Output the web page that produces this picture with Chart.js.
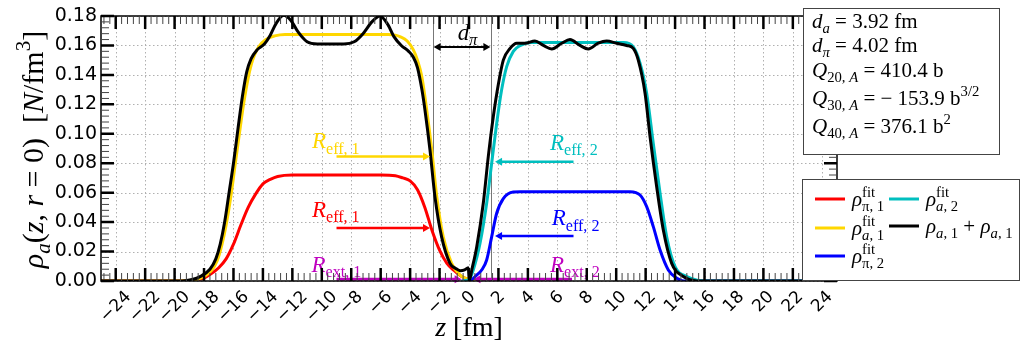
<!DOCTYPE html>
<html>
<head>
<meta charset="utf-8">
<script src="https://cdn.jsdelivr.net/npm/chart.js@4.4.1/dist/chart.umd.min.js"></script>
<style>
  html, body { margin: 0; padding: 0; background: #fff; }
  canvas { display: block; }
</style>
</head>
<body>
<canvas id="densityChart" width="1022" height="343"></canvas>
<script>
// axis ticks
var xTicks = [-24, -22, -20, -18, -16, -14, -12, -10, -8, -6, -4, -2, 0, 2, 4, 6, 8, 10, 12, 14, 16, 18, 20, 22, 24];
var yTicks = [0, 0.02, 0.04, 0.06, 0.08, 0.10, 0.12, 0.14, 0.16, 0.18];

// densities along z (fm) -> rho (N/fm^3)
var rhoPi1 = [[-25, 0], [-19, 0], [-18.5, 0.001], [-18, 0.002], [-17.5, 0.005], [-17, 0.009], [-16.5, 0.015],
  [-16, 0.025], [-15.5, 0.038], [-15, 0.050], [-14.5, 0.059], [-14, 0.066], [-13.5, 0.069], [-13, 0.071],
  [-12, 0.072], [-6, 0.072], [-5, 0.0715], [-4.5, 0.070], [-4, 0.068], [-3.5, 0.062], [-3, 0.050],
  [-2.5, 0.034], [-2, 0.021], [-1.5, 0.012], [-1, 0.007], [-0.5, 0.003], [0, 0.001], [0.5, 0]];

var rhoA1 = [[-25, 0], [-19.5, 0], [-18.5, 0.001], [-18, 0.003], [-17.5, 0.007], [-17.1, 0.014], [-16.8, 0.024],
  [-16.5, 0.038], [-16.2, 0.056], [-15.9, 0.078], [-15.6, 0.100], [-15.3, 0.121], [-15, 0.138], [-14.7, 0.150],
  [-14.3, 0.159], [-13.8, 0.164], [-13.2, 0.1665], [-12.5, 0.1675], [-5.5, 0.1675], [-5, 0.167], [-4.7, 0.166],
  [-4.2, 0.163], [-3.78, 0.157], [-3.5, 0.150], [-3.21, 0.139], [-2.87, 0.116], [-2.53, 0.089], [-2.19, 0.0573],
  [-1.75, 0.030], [-1.18, 0.012], [-0.61, 0.004], [0, 0.001], [0.5, 0]];

var rhoPi2 = [[-0.5, 0], [0, 0], [0.52, 0.004], [0.9, 0.008], [1.2, 0.0143], [1.54, 0.030], [1.88, 0.046],
  [2.33, 0.056], [3.01, 0.0605], [3.5, 0.0607], [10.94, 0.0607], [11.62, 0.0584], [12.07, 0.0505],
  [12.52, 0.0369], [12.98, 0.021], [13.54, 0.0075], [14.1, 0.002], [14.6, 0], [25, 0]];

var rhoA2 = [[-0.5, 0], [0, 0.001], [0.29, 0.0075], [0.75, 0.0256], [1.2, 0.0528], [1.54, 0.080], [1.88, 0.107],
  [2.22, 0.130], [2.56, 0.1456], [3.01, 0.156], [3.5, 0.160], [4.2, 0.162], [10.5, 0.162], [11.16, 0.159],
  [11.62, 0.148], [12.07, 0.1275], [12.52, 0.0935], [12.98, 0.0596], [13.43, 0.030], [14.0, 0.0097],
  [14.79, 0.003], [15.5, 0.0005], [16, 0], [25, 0]];

var rhoSum = [[-25, 0], [-19.5, 0], [-18.8, 0.001], [-18.27, 0.003], [-17.6, 0.008], [-17.2, 0.015], [-16.9, 0.025],
  [-16.6, 0.040], [-16.3, 0.060], [-16.0, 0.080], [-15.7, 0.103], [-15.4, 0.125], [-15.1, 0.142], [-14.8, 0.151],
  [-14.4, 0.157], [-13.9, 0.161], [-13.5, 0.167], [-13.1, 0.175], [-12.6, 0.1805], [-12.1, 0.177], [-11.6, 0.169],
  [-11.0, 0.1625], [-10.3, 0.161], [-8.5, 0.161], [-7.8, 0.1625], [-7.2, 0.168], [-6.6, 0.176], [-6.05, 0.180],
  [-5.5, 0.174], [-5.1, 0.166], [-4.6, 0.160], [-4.1, 0.156], [-3.78, 0.152], [-3.5, 0.145], [-3.2, 0.130],
  [-2.99, 0.116], [-2.65, 0.089], [-2.31, 0.057], [-1.86, 0.030], [-1.29, 0.012], [-0.9, 0.0085], [-0.6, 0.007],
  [-0.3, 0.0075], [-0.05, 0.009], [0.03, 0.0005], [0.2, 0.008], [0.52, 0.023], [0.97, 0.0528], [1.31, 0.0845],
  [1.65, 0.1116], [2.0, 0.134], [2.33, 0.150], [2.79, 0.158], [3.24, 0.1615], [3.8, 0.1615], [4.48, 0.163],
  [5.05, 0.160], [5.62, 0.1576], [6.3, 0.1615], [6.86, 0.164], [7.54, 0.160], [8.1, 0.1576], [8.78, 0.1615],
  [9.35, 0.163], [10.03, 0.1615], [10.71, 0.160], [11.16, 0.158], [11.5, 0.150], [11.96, 0.1275], [12.3, 0.098],
  [12.75, 0.064], [13.2, 0.0346], [13.77, 0.012], [14.56, 0.003], [15.5, 0], [25, 0]];

// annotations (data coordinates)
var sepZ = [-2.47, 1.52];
var dPiRho = 0.159;
var radiusFrom = [-9, 7.1, -9, 7.1, -9, 7.0];
var radiusTo = [-2.65, 1.77, -2.65, 1.77, -0.5, 0.3];
var radiusRho = [0.0845, 0.081, 0.036, 0.0306, 0.0012, 0.0012];
var radiusSub = ['eff, 1', 'eff, 2', 'eff, 1', 'eff, 2', 'ext, 1', 'ext, 2'];
var radiusLabelZ = [-10.67, 5.5, -10.67, 5.62, -10.7, 5.5];
var radiusLabelRho = [0.0903, 0.089, 0.0435, 0.038, 0.0063, 0.0063];

var RED = '#ff0000', GOLD = '#ffd700', BLUE = '#0000ff', CYAN = '#00bfbf', MAG = '#bf00bf';
var radiusColors = [GOLD, CYAN, RED, BLUE, MAG, MAG];
var SERIF = '"Liberation Serif", "DejaVu Serif", serif';

function pts(arr) { return arr.map(function (p) { return { x: p[0], y: p[1] }; }); }

// tiny math-text writer: segs of {t, i: italic, l: -1 sub / 1 sup, m: mark x, st: start at mark}
function S(t, i, l, m, st) { return { t: t, i: i, l: l || 0, m: m, st: st }; }
function mathText(ctx, x, y, segs, size, draw) {
  var cx = x, mark = x;
  segs.forEach(function (s) {
    var f = s.l ? size * 0.7 : size;
    ctx.font = (s.i ? 'italic ' : '') + f + 'px ' + SERIF;
    var w = ctx.measureText(s.t).width;
    var sx = s.st ? mark : cx;
    if (s.m) mark = sx;
    var dy = s.l === -1 ? size * 0.24 : (s.l === 1 ? -size * 0.42 : 0);
    if (draw) ctx.fillText(s.t, sx, y + dy);
    cx = Math.max(cx, sx + w);
  });
  return cx - x;
}

function arrowHead(ctx, x, y, dir, len, half) {
  ctx.beginPath();
  ctx.moveTo(x, y);
  ctx.lineTo(x - dir * len, y - half);
  ctx.lineTo(x - dir * len, y + half);
  ctx.closePath();
  ctx.fill();
}

var decor = {
  id: 'decor',
  beforeDatasetsDraw: function (chart) {
    var ctx = chart.ctx, a = chart.chartArea, xs = chart.scales.x, ys = chart.scales.y;
    ctx.save();
    ctx.strokeStyle = '#b0b0b0';
    ctx.lineWidth = 1;
    ctx.setLineDash([1.5, 2.5]);
    xTicks.forEach(function (v) {
      var px = Math.round(xs.getPixelForValue(v)) + 0.5;
      ctx.beginPath(); ctx.moveTo(px, a.top); ctx.lineTo(px, a.bottom); ctx.stroke();
    });
    yTicks.forEach(function (v) {
      var py = Math.round(ys.getPixelForValue(v)) + 0.5;
      ctx.beginPath(); ctx.moveTo(a.left, py); ctx.lineTo(a.right, py); ctx.stroke();
    });
    ctx.setLineDash([]);
    ctx.strokeStyle = '#777';
    sepZ.forEach(function (z) {
      var px = Math.round(xs.getPixelForValue(z)) + 0.5;
      ctx.beginPath(); ctx.moveTo(px, a.top); ctx.lineTo(px, a.bottom); ctx.stroke();
    });
    ctx.restore();
  },
  afterDatasetsDraw: function (chart) {
    var ctx = chart.ctx, a = chart.chartArea, xs = chart.scales.x, ys = chart.scales.y;
    ctx.save();
    ctx.textBaseline = 'alphabetic';
    ctx.textAlign = 'left';

    // radius arrows and labels
    radiusFrom.forEach(function (z0, i) {
      var x0 = xs.getPixelForValue(z0), x1 = xs.getPixelForValue(radiusTo[i]);
      var py = ys.getPixelForValue(radiusRho[i]);
      var dir = x1 > x0 ? 1 : -1;
      ctx.strokeStyle = radiusColors[i];
      ctx.fillStyle = radiusColors[i];
      ctx.lineWidth = i >= 4 ? 3 : 2.5;
      ctx.beginPath(); ctx.moveTo(x0, py); ctx.lineTo(x1 - dir * 5, py); ctx.stroke();
      arrowHead(ctx, x1, py, dir, 7, 4);
      mathText(ctx, xs.getPixelForValue(radiusLabelZ[i]), ys.getPixelForValue(radiusLabelRho[i]),
        [S('R', true), S(radiusSub[i], false, -1)], 23, true);
    });

    // d_pi double arrow
    var xa = xs.getPixelForValue(sepZ[0]), xb = xs.getPixelForValue(sepZ[1]);
    var yd = ys.getPixelForValue(dPiRho);
    ctx.strokeStyle = '#000'; ctx.fillStyle = '#000'; ctx.lineWidth = 2;
    ctx.beginPath(); ctx.moveTo(xa + 6, yd); ctx.lineTo(xb - 6, yd); ctx.stroke();
    arrowHead(ctx, xa + 1, yd, -1, 7, 4);
    arrowHead(ctx, xb - 1, yd, 1, 7, 4);
    mathText(ctx, xs.getPixelForValue(-0.77), ys.getPixelForValue(0.164), [S('d', true), S('π', true, -1)], 23, true);

    // frame
    ctx.strokeStyle = '#000'; ctx.lineWidth = 1.5;
    ctx.strokeRect(a.left, a.top, a.right - a.left, a.bottom - a.top);

    // ticks, all inward
    function tickX(v, len, w) {
      var px = xs.getPixelForValue(v);
      ctx.lineWidth = w;
      ctx.beginPath(); ctx.moveTo(px, a.bottom); ctx.lineTo(px, a.bottom - len);
      ctx.moveTo(px, a.top); ctx.lineTo(px, a.top + len); ctx.stroke();
    }
    function tickY(v, len, w) {
      var py = ys.getPixelForValue(v);
      ctx.lineWidth = w;
      ctx.beginPath(); ctx.moveTo(a.left, py); ctx.lineTo(a.left + len, py);
      ctx.moveTo(a.right, py); ctx.lineTo(a.right - len, py); ctx.stroke();
    }
    ctx.strokeStyle = '#444';
    for (var k = -62; k <= 62; k++) { if (k % 5 !== 0) tickX(k * 0.4, 8, 1); }
    for (var m = 1; m < 45; m++) { if (m % 5 !== 0) tickY(m * 0.004, 8, 1); }
    ctx.strokeStyle = '#000';
    xTicks.forEach(function (v) { tickX(v, 13, 2.5); });
    yTicks.forEach(function (v) { tickY(v, 13, 2.5); });

    // x tick labels, rotated 45 deg and centred on the tick
    ctx.fillStyle = '#000';
    ctx.font = '17px "DejaVu Sans"';
    ctx.textAlign = 'center';
    ctx.textBaseline = 'middle';
    xTicks.forEach(function (v) {
      var s = v < 0 ? '\u2212' + Math.abs(v) : String(v);
      var L = ctx.measureText(s).width;
      ctx.save();
      ctx.translate(xs.getPixelForValue(v), a.bottom + 9 + (L + 12) * 0.3536);
      ctx.rotate(-Math.PI / 4);
      ctx.fillText(s, 0, 0);
      ctx.restore();
    });
    ctx.textAlign = 'left';
    ctx.textBaseline = 'alphabetic';

    // axis titles
    var xt = [S('z', true), S(' [fm]', false)];
    var w = mathText(ctx, 0, 0, xt, 28, false);
    mathText(ctx, 469 - w / 2, 336, xt, 28, true);
    var yt = [S('ρ', true), S('a', true, -1), S('(', false), S('z', true), S(', ', false), S('r', true),
      S(' = 0)  [', false), S('N', true), S('/fm', false), S('3', false, 1), S(']', false)];
    var wy = mathText(ctx, 0, 0, yt, 30, false);
    ctx.save();
    ctx.translate(43, (a.top + a.bottom) / 2 + 1);
    ctx.rotate(-Math.PI / 2);
    mathText(ctx, -wy / 2, 0, yt, 30, true);
    ctx.restore();

    // parameter box
    ctx.fillStyle = '#fff'; ctx.strokeStyle = '#444'; ctx.lineWidth = 1;
    ctx.fillRect(803.5, 8.5, 196, 146); ctx.strokeRect(803.5, 8.5, 196, 146);
    ctx.fillStyle = '#000';
    var boxLines = [
      [S('d', true), S('a', true, -1), S(' = 3.92 fm', false)],
      [S('d', true), S('π', true, -1), S(' = 4.02 fm', false)],
      [S('Q', true), S('20, ', false, -1), S('A', true, -1), S(' = 410.4 b', false)],
      [S('Q', true), S('30, ', false, -1), S('A', true, -1), S(' = − 153.9 b', false), S('3/2', false, 1)],
      [S('Q', true), S('40, ', false, -1), S('A', true, -1), S(' = 376.1 b', false), S('2', false, 1)]
    ];
    var boxY = [28, 52, 77, 105, 133];
    boxLines.forEach(function (segs, i) { mathText(ctx, 812, boxY[i], segs, 21, true); });

    // legend
    ctx.fillStyle = '#fff'; ctx.strokeStyle = '#444';
    ctx.fillRect(802.5, 179.5, 217, 101); ctx.strokeRect(802.5, 179.5, 217, 101);
    var ds = chart.data.datasets;
    var legX = [815, 815, 815, 889, 889];
    var legY = [199, 228, 256, 199, 226];
    var legTextY = [206, 235, 263, 206, 233];
    ds.forEach(function (d, i) {
      ctx.strokeStyle = d.borderColor; ctx.lineWidth = 3;
      ctx.beginPath(); ctx.moveTo(legX[i], legY[i]); ctx.lineTo(legX[i] + 30, legY[i]); ctx.stroke();
      ctx.fillStyle = '#000';
      mathText(ctx, legX[i] + 37, legTextY[i], d.segs, 21, true);
    });
    ctx.restore();
  }
};

new Chart(document.getElementById('densityChart'), {
  type: 'line',
  data: {
    datasets: [
      { data: pts(rhoPi1), borderColor: RED, order: 5,
        segs: [S('ρ', true), S('π, 1', false, -1, true), S('fit', false, 1, false, true)] },
      { data: pts(rhoA1), borderColor: GOLD, order: 4,
        segs: [S('ρ', true), S('a', true, -1, true), S(', 1', false, -1), S('fit', false, 1, false, true)] },
      { data: pts(rhoPi2), borderColor: BLUE, order: 3,
        segs: [S('ρ', true), S('π, 2', false, -1, true), S('fit', false, 1, false, true)] },
      { data: pts(rhoA2), borderColor: CYAN, order: 2,
        segs: [S('ρ', true), S('a', true, -1, true), S(', 2', false, -1), S('fit', false, 1, false, true)] },
      { data: pts(rhoSum), borderColor: '#000', order: 1,
        segs: [S('ρ', true), S('a', true, -1), S(', 1', false, -1), S(' + ', false), S('ρ', true), S('a', true, -1), S(', 1', false, -1)] }
    ]
  },
  options: {
    responsive: false,
    animation: false,
    layout: { padding: { left: 0, right: 185, top: 16, bottom: 0 } },
    elements: {
      point: { radius: 0 },
      line: { borderWidth: 3, cubicInterpolationMode: 'monotone', fill: false }
    },
    plugins: { legend: { display: false }, tooltip: { enabled: false } },
    scales: {
      x: {
        type: 'linear', min: -25, max: 25,
        grid: { display: false, drawTicks: false },
        border: { display: false },
        ticks: { display: false },
        afterBuildTicks: function (s) { s.ticks = xTicks.map(function (v) { return { value: v }; }); },
        afterFit: function (s) { s.height = 62; }
      },
      y: {
        min: 0, max: 0.18,
        grid: { display: false, drawTicks: false },
        border: { display: false },
        ticks: {
          padding: 4, color: '#000',
          font: { family: 'DejaVu Sans', size: 19 },
          callback: function (v) { return v.toFixed(2); }
        },
        afterBuildTicks: function (s) { s.ticks = yTicks.map(function (v) { return { value: v }; }); },
        afterFit: function (s) { s.width = 101; }
      }
    }
  },
  plugins: [decor]
});
</script>
</body>
</html>
